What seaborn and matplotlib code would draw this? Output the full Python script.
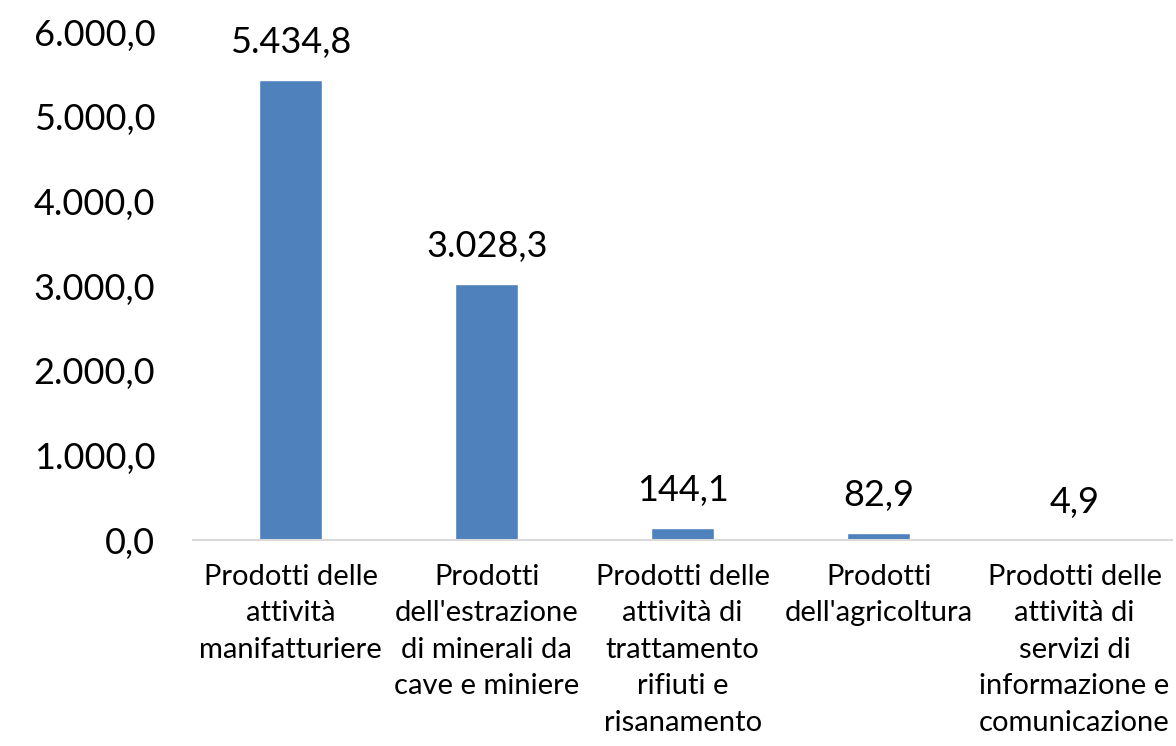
import seaborn as sns
import matplotlib.pyplot as plt
import pandas as pd

categories = [
    "Prodotti delle\nattività\nmanifatturiere",
    "Prodotti\ndell'estrazione\ndi minerali da\ncave e miniere",
    "Prodotti delle\nattività di\ntrattamento\nrifiuti e\nrisanamento",
    "Prodotti\ndell'agricoltura",
    "Prodotti delle\nattività di\nservizi di\ninformazione e\ncomunicazione",
]
values = [5434.8, 3028.3, 144.1, 82.9, 4.9]
yticks = [0, 1000, 2000, 3000, 4000, 5000, 6000]


def it_fmt(v):
    s = f"{v:,.1f}"
    return s.replace(",", "X").replace(".", ",").replace("X", ".")


sns.set_theme(style="white")
plt.rcParams['font.family'] = ['Lato', 'DejaVu Sans']

df = pd.DataFrame({"cat": categories, "val": values})

fig = plt.figure(figsize=(11.76, 7.46), dpi=100)
ax = fig.add_axes([0.164, 0.276, 0.833, 0.681])
sns.barplot(data=df, x="cat", y="val", color="#4F81BD", saturation=1, width=0.32, ax=ax)

for i, v in enumerate(values):
    ax.annotate(it_fmt(v), (i, v), xytext=(0, 15), textcoords="offset points",
                ha="center", va="bottom", fontsize=26, color="black")

ax.set_ylim(0, 6000)
ax.set_xlim(-0.5, 4.5)
ax.set_yticks(yticks)
ax.set_yticklabels([it_fmt(t) for t in yticks], fontsize=26, color="black")
ax.set_xticks(range(len(categories)))
ax.set_xticklabels(categories, fontsize=21, linespacing=1.5, va="top", color="black")
ax.tick_params(axis="x", length=0, pad=17)
ax.tick_params(axis="y", length=0, pad=27)
ax.set_xlabel("")
ax.set_ylabel("")
for s in ["top", "right", "left"]:
    ax.spines[s].set_visible(False)
ax.spines["bottom"].set_color("#d9d9d9")
ax.spines["bottom"].set_linewidth(1.5)

fig.savefig("out.png", dpi=100)
